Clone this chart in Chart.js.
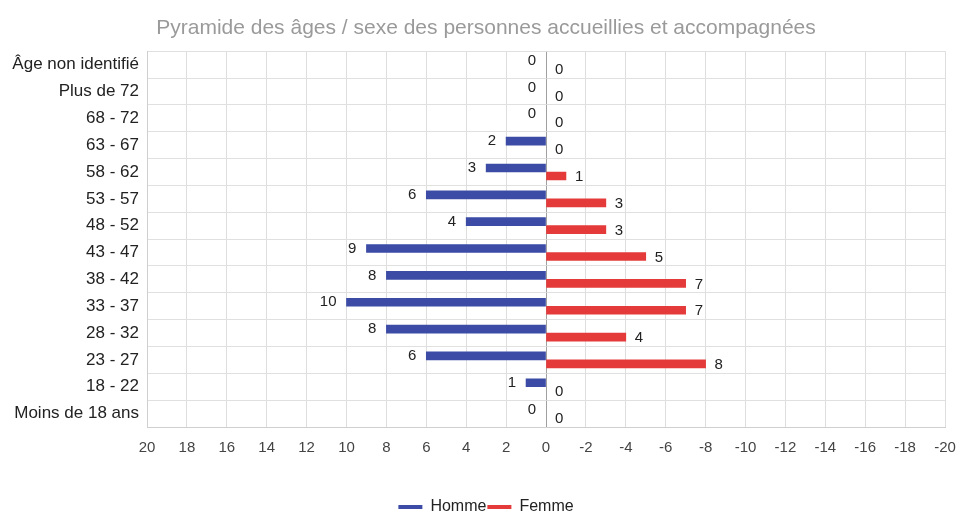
<!DOCTYPE html>
<html>
<head>
<meta charset="utf-8">
<script src="https://cdn.jsdelivr.net/npm/chart.js@4.4.1/dist/chart.umd.min.js"></script>
<style>
html,body{margin:0;padding:0;background:#fff;overflow:hidden;}
#wrap{width:960px;height:515px;position:relative;overflow:hidden;}
</style>
</head>
<body>
<div id="wrap"><canvas id="c" width="960" height="525"></canvas></div>
<script>
const categories = ["Âge non identifié","Plus de 72","68 - 72","63 - 67","58 - 62","53 - 57","48 - 52","43 - 47","38 - 42","33 - 37","28 - 32","23 - 27","18 - 22","Moins de 18 ans"];
const homme = [0,0,0,2,3,6,4,9,8,10,8,6,1,0];
const femme = [0,0,0,0,1,3,3,5,7,7,4,8,0,0];
const xMin = -20, xMax = 20, xStep = 2;
const titleText = "Pyramide des âges / sexe des personnes accueillies et accompagnées";

const BLUE = "#3b4ba6", RED = "#e53a3a";
const FONT = "'Liberation Sans', Arial, sans-serif";

const valueLabels = {
  id: 'valueLabels',
  afterDatasetsDraw(chart) {
    const ctx = chart.ctx;
    ctx.save();
    ctx.font = "15px " + FONT;
    ctx.fillStyle = "#222";
    ctx.textBaseline = "middle";
    chart.data.datasets.forEach((ds, i) => {
      const meta = chart.getDatasetMeta(i);
      meta.data.forEach((bar, j) => {
        const v = Math.abs(ds.data[j]);
        if (i === 0) { ctx.textAlign = "right"; ctx.fillText(String(v), bar.x - 10, bar.y); }
        else { ctx.textAlign = "left"; ctx.fillText(String(v), bar.x + 9, bar.y + 1); }
      });
    });
    ctx.restore();
  }
};

// shift title and legend slightly right, as in the reference
const shiftBlocks = {
  id: 'shiftBlocks',
  afterLayout(chart) {
    if (chart.titleBlock) { chart.titleBlock.left += 8; chart.titleBlock.right += 8; }
    if (chart.legend) { chart.legend.left += 8; chart.legend.right += 8; }
  }
};

const barColor = c => ctx => (ctx.raw === 0 ? 'rgba(0,0,0,0)' : c);

new Chart(document.getElementById('c'), {
  type: 'bar',
  data: {
    labels: categories,
    datasets: [
      { label: 'Homme', data: homme, backgroundColor: barColor(BLUE), borderWidth: 0, barThickness: 8 },
      { label: 'Femme', data: femme.map(v => -v), backgroundColor: barColor(RED), borderWidth: 0, barThickness: 8 }
    ]
  },
  options: {
    indexAxis: 'y',
    responsive: false,
    animation: false,
    layout: { padding: { left: 0, right: 4, top: 0, bottom: 0 } },
    plugins: {
      title: { display: true, text: titleText, color: '#9a9a9a', font: { family: FONT, size: 21, weight: 'normal' }, padding: { top: 16, bottom: 10 } },
      legend: {
        position: 'bottom',
        labels: { color: '#222', font: { family: FONT, size: 16 }, boxWidth: 24, boxHeight: 4, padding: 1,
          generateLabels(chart) {
            return chart.data.datasets.map((ds, i) => ({
              text: ds.label, fillStyle: i === 0 ? BLUE : RED, strokeStyle: i === 0 ? BLUE : RED,
              lineWidth: 0, hidden: false, datasetIndex: i, fontColor: '#222'
            }));
          }
        }
      },
      tooltip: { enabled: false }
    },
    scales: {
      x: {
        min: xMin, max: xMax, reverse: true,
        ticks: { stepSize: xStep, color: '#444', font: { family: FONT, size: 15 }, padding: 12, maxRotation: 0, autoSkip: false },
        grid: { color: ctx => (ctx.tick && ctx.tick.value === 0) ? '#a0a0a0' : '#dedede', drawTicks: false },
        border: { color: '#cfcfcf' },
        afterFit(scale) { scale.height = 71; scale.paddingRight = 15; }
      },
      y: {
        ticks: { color: '#222', font: { family: FONT, size: 17 }, padding: 8, autoSkip: false },
        grid: { color: '#e0e0e0', drawTicks: false },
        border: { color: '#cfcfcf' },
        afterFit(scale) { scale.width = 147; }
      }
    }
  },
  plugins: [valueLabels, shiftBlocks]
});
</script>
</body>
</html>
